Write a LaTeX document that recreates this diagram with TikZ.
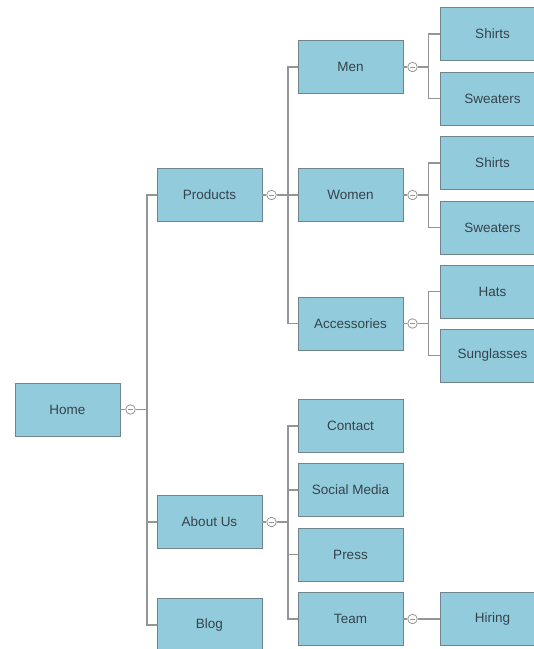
\documentclass[tikz,border=0pt]{standalone}
\usepackage{fontspec}
\setmainfont{Liberation Sans}
\definecolor{boxfill}{HTML}{92CCDC}
\definecolor{boxline}{HTML}{6F858D}
\definecolor{linkgray}{HTML}{959595}
\definecolor{textgray}{HTML}{36424C}
\begin{document}
\begin{tikzpicture}[x=1pt,y=-1pt]
    \tikzstyle{page}=[rectangle,draw=boxline,line width=0.9pt,fill=boxfill,text=textgray,inner sep=0pt,minimum width=105pt,minimum height=53pt,font=\fontsize{13.5}{15}\selectfont]
    \tikzstyle{toggle}=[circle,draw=linkgray,fill=white,line width=0.8pt,inner sep=0pt,minimum size=9.5pt,path picture={\draw[linkgray,line width=0.8pt] ([xshift=2.2pt]path picture bounding box.west) -- ([xshift=-2.2pt]path picture bounding box.east);}]
    \tikzstyle{link}=[draw=linkgray,line width=1.3pt]
    \useasboundingbox (0,0) rectangle (534,649);
    \clip (0,0) rectangle (534,649);
    % level 0 and 1
    \node (home)[page] at (67.5,409.5) {Home};
    \node (products)[page] at (209.5,195) {Products};
    \node (about)[page] at (209.5,522) {About Us};
    \node (blog)[page] at (209.5,625) {Blog};
    % level 2
    \node (men)[page] at (350.5,67) {Men};
    \node (women)[page] at (350.5,195) {Women};
    \node (acc)[page] at (350.5,323.5) {Accessories};
    \node (contact)[page] at (350.5,426) {Contact};
    \node (social)[page] at (350.5,490) {Social Media};
    \node (press)[page] at (350.5,554.5) {Press};
    \node (team)[page] at (350.5,619) {Team};
    % level 3
    \node (shirtsm)[page] at (492.5,34) {Shirts};
    \node (sweatm)[page] at (492.5,98.5) {Sweaters};
    \node (shirtsw)[page] at (492.5,163) {Shirts};
    \node (sweatw)[page] at (492.5,227.5) {Sweaters};
    \node (hats)[page] at (492.5,291.5) {Hats};
    \node (sun)[page] at (492.5,355.5) {Sunglasses};
    \node (hiring)[page] at (492.5,619) {Hiring};
    % toggles
    \node (thome)[toggle] at (130.5,409.5) {};
    \node (tprod)[toggle] at (271.5,195) {};
    \node (tabout)[toggle] at (271.5,522) {};
    \node (tmen)[toggle] at (412.5,67) {};
    \node (twomen)[toggle] at (412.5,195) {};
    \node (tacc)[toggle] at (412.5,323.5) {};
    \node (tteam)[toggle] at (412.5,619) {};
    % connectors
    \draw [link] (home) -- (thome);
    \draw [link] (thome) -- ++(16.5,0) |- (products);
    \draw [link] (thome) -- ++(16.5,0) |- (about);
    \draw [link] (thome) -- ++(16.5,0) |- (blog);
    \draw [link] (products) -- (tprod);
    \draw [link] (tprod) -- ++(16.5,0) |- (men);
    \draw [link] (tprod) -- ++(16.5,0) |- (women);
    \draw [link] (tprod) -- ++(16.5,0) |- (acc);
    \draw [link] (about) -- (tabout);
    \draw [link] (tabout) -- ++(16.5,0) |- (contact);
    \draw [link] (tabout) -- ++(16.5,0) |- (social);
    \draw [link] (tabout) -- ++(16.5,0) |- (press);
    \draw [link] (tabout) -- ++(16.5,0) |- (team);
    \draw [link] (men) -- (tmen);
    \draw [link] (tmen) -- ++(16,0) |- (shirtsm);
    \draw [link] (tmen) -- ++(16,0) |- (sweatm);
    \draw [link] (women) -- (twomen);
    \draw [link] (twomen) -- ++(16,0) |- (shirtsw);
    \draw [link] (twomen) -- ++(16,0) |- (sweatw);
    \draw [link] (acc) -- (tacc);
    \draw [link] (tacc) -- ++(16,0) |- (hats);
    \draw [link] (tacc) -- ++(16,0) |- (sun);
    \draw [link] (team) -- (tteam);
    \draw [link] (tteam) -- (hiring);
\end{tikzpicture}
\end{document}
